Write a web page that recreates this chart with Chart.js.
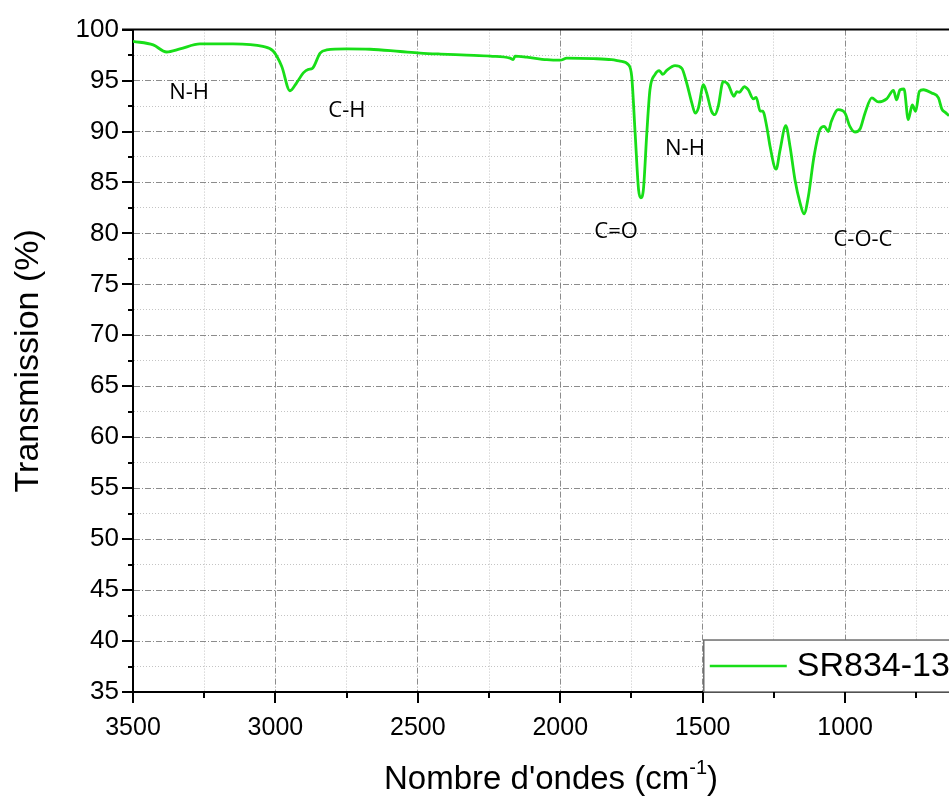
<!DOCTYPE html>
<html>
<head>
<meta charset="utf-8">
<script src="https://cdn.jsdelivr.net/npm/chart.js@4.4.1/dist/chart.umd.min.js"></script>
<style>
html,body{margin:0;padding:0;background:#fff;}
#wrap{width:949px;height:798px;position:relative;}
</style>
</head>
<body>
<div id="wrap"><canvas id="c" width="949" height="798"></canvas></div>
<script>
// ---- data ----
const wavenumbers = [3500,3429,3382,3335,3265,3149,3044,3008,2978,2949,2925,2902,2884,2870,2843,2820,2750,2668,2562,2492,2420,2328,2246,2176,2165,2159,2118,2047,2000,1977,1883,1820,1790,1760,1749,1737,1725,1717,1708,1696,1685,1667,1652,1640,1626,1597,1573,1556,1538,1526,1515,1497,1486,1469,1457,1445,1428,1410,1398,1390,1380,1371,1354,1340,1322,1312,1298,1289,1275,1263,1242,1228,1208,1193,1176,1158,1144,1129,1109,1088,1073,1059,1048,1024,1000,983,965,947,930,906,883,854,830,819,807,793,778,764,752,739,725,696,672,660,649,635];
const transmission = [98.85,98.5,97.8,98.1,98.6,98.6,98.35,97.9,96.4,94.0,94.8,95.75,96.1,96.2,97.7,98.0,98.1,98.07,97.85,97.7,97.6,97.5,97.4,97.2,97.05,97.4,97.3,97.05,97.0,97.2,97.15,97.05,96.9,96.55,95.4,89.85,84.3,83.5,84.3,89.85,94.1,95.6,95.97,95.6,96.0,96.46,96.2,94.76,92.8,91.8,92.3,94.6,93.8,92.0,91.65,92.5,94.9,94.6,93.8,93.45,93.9,93.85,94.4,94.1,93.2,93.35,92.0,92.0,90.5,88.5,86.3,88.2,90.57,88.5,85.3,83.0,81.93,83.6,87.55,90.2,90.5,90.0,91.0,92.14,91.8,90.5,89.95,90.27,91.8,93.3,92.9,93.2,94.04,93.1,94.1,94.17,91.16,92.6,91.98,93.94,94.1,93.78,93.3,92.2,91.9,91.55];
const seriesName = 'SR834-13';
const annotationLabels = ['N-H','C-H','C=O','N-H','C-O-C'];
const annotationX = [3303,2749,1804,1562,937];
const annotationY = [93.8,92.0,80.2,88.3,79.4];
const xTitle = "Nombre d'ondes (cm";
const xTitleSup = "-1";
const yTitle = 'Transmission (%)';
const xMin = 635, xMax = 3500, yMin = 35, yMax = 100;

// ---- styles ----
const GREEN = 'rgb(24,222,24)';
const MAJOR_GRID = 'rgba(120,120,120,0.85)';
const MINOR_GRID = 'rgba(190,190,190,0.9)';

const decorPlugin = {
  id: 'decor',
  afterDraw(chart) {
    const ctx = chart.ctx;
    const ca = chart.chartArea;
    const xs = chart.scales.x, ys = chart.scales.y;
    ctx.save();
    ctx.strokeStyle = '#000';
    ctx.lineWidth = 2;
    // tick marks
    ys.ticks.forEach(t => {
      const y = Math.round(ys.getPixelForValue(t.value));
      const major = Math.abs(t.value % 5) < 1e-6;
      ctx.beginPath();
      ctx.moveTo(ca.left - (major ? 11 : 5), y);
      ctx.lineTo(ca.left, y);
      ctx.stroke();
    });
    xs.ticks.forEach(t => {
      const x = Math.round(xs.getPixelForValue(t.value));
      const major = Math.abs(t.value % 500) < 1e-6;
      ctx.beginPath();
      ctx.moveTo(x, ca.bottom);
      ctx.lineTo(x, ca.bottom + (major ? 11 : 6));
      ctx.stroke();
    });
    // top border
    ctx.beginPath();
    ctx.moveTo(ca.left - 11, ca.top);
    ctx.lineTo(chart.width, ca.top);
    ctx.stroke();
    // x title with superscript
    ctx.fillStyle = '#000';
    ctx.textBaseline = 'alphabetic';
    ctx.font = '33px "Liberation Sans", Arial, sans-serif';
    const w1 = ctx.measureText(xTitle).width;
    ctx.font = '20px "Liberation Sans", Arial, sans-serif';
    const w2 = ctx.measureText(xTitleSup).width;
    ctx.font = '33px "Liberation Sans", Arial, sans-serif';
    const w3 = ctx.measureText(')').width;
    const total = w1 + w2 + w3;
    const cx = (ca.left + chart.width) / 2 + 10;
    let x0 = cx - total / 2;
    const base = 789;
    ctx.textAlign = 'left';
    ctx.fillText(xTitle, x0, base);
    ctx.font = '20px "Liberation Sans", Arial, sans-serif';
    ctx.fillText(xTitleSup, x0 + w1, base - 15);
    ctx.font = '33px "Liberation Sans", Arial, sans-serif';
    ctx.fillText(')', x0 + w1 + w2, base);
    ctx.restore();
  },
  afterDatasetsDraw(chart) {
    const ctx = chart.ctx;
    const ca = chart.chartArea;
    const xs = chart.scales.x, ys = chart.scales.y;
    ctx.save();
    // annotations
    ctx.fillStyle = '#000';
    ctx.font = '22px "Open Sans", "Noto Sans", sans-serif';
    ctx.textAlign = 'center';
    ctx.textBaseline = 'middle';
    annotationLabels.forEach((lab, i) => {
      ctx.fillText(lab, xs.getPixelForValue(annotationX[i]), ys.getPixelForValue(annotationY[i]));
    });
    // legend box
    const ds = chart.data.datasets[0];
    const lx = xs.getPixelForValue(1496), ly = ys.getPixelForValue(40.1);
    ctx.fillStyle = '#fff';
    ctx.fillRect(lx, ly, chart.width - lx + 2, ca.bottom - ly);
    ctx.strokeStyle = '#6e6e6e';
    ctx.lineWidth = 1.5;
    ctx.strokeRect(lx, ly, chart.width - lx + 5, ca.bottom - ly);
    const my = (ly + ca.bottom) / 2;
    ctx.strokeStyle = ds.borderColor;
    ctx.lineWidth = 2.5;
    ctx.beginPath();
    ctx.moveTo(lx + 6, my);
    ctx.lineTo(lx + 83, my);
    ctx.stroke();
    ctx.fillStyle = '#000';
    ctx.font = '34px "Liberation Sans", Arial, sans-serif';
    ctx.textAlign = 'left';
    ctx.textBaseline = 'middle';
    ctx.fillText(ds.label, lx + 93, my + 1);
    ctx.restore();
  }
};

const points = wavenumbers.map((w, i) => ({x: w, y: transmission[i]}));

new Chart(document.getElementById('c'), {
  type: 'line',
  data: {
    datasets: [{
      label: seriesName,
      data: points,
      borderColor: GREEN,
      borderWidth: 2.8,
      pointRadius: 0,
      fill: false,
      cubicInterpolationMode: 'monotone'
    }]
  },
  options: {
    responsive: false,
    animation: false,
    devicePixelRatio: 1,
    layout: {padding: {top: 29, right: 0, left: 0, bottom: 0}},
    plugins: {legend: {display: false}, tooltip: {enabled: false}},
    scales: {
      x: {
        type: 'linear',
        reverse: true,
        min: xMin,
        max: xMax,
        afterBuildTicks(scale) {
          const t = [];
          for (let v = 3500; v >= xMin; v -= 250) t.push({value: v});
          scale.ticks = t;
        },
        afterFit(scale) { scale.height = 798 - 692; },
        ticks: {
          includeBounds: false,
          autoSkip: false,
          maxRotation: 0,
          padding: 21,
          color: '#000',
          font: {family: '"Liberation Sans", Arial, sans-serif', size: 25},
          callback: (v) => (v % 500 === 0 ? String(v) : '')
        },
        grid: {
          drawTicks: false,
          color: (c) => (c.tick && c.tick.value % 500 === 0 ? MAJOR_GRID : MINOR_GRID),
          lineWidth: 1
        },
        border: {
          display: true,
          color: '#000',
          width: 2,
          dash: (c) => (c.tick && c.tick.value % 500 === 0 ? [6, 2, 1, 2] : [1, 2])
        },
        title: {display: false}
      },
      y: {
        type: 'linear',
        min: yMin,
        max: yMax,
        afterBuildTicks(scale) {
          const t = [];
          for (let v = yMin; v <= yMax + 1e-9; v += 2.5) t.push({value: v});
          scale.ticks = t;
        },
        afterFit(scale) { scale.width = 133; },
        ticks: {
          autoSkip: false,
          padding: 14,
          color: '#000',
          font: {family: '"Liberation Sans", Arial, sans-serif', size: 26},
          callback: (v) => (Math.abs(v % 5) < 1e-6 ? String(v) : '')
        },
        grid: {
          drawTicks: false,
          color: (c) => (c.tick && Math.abs(c.tick.value % 5) < 1e-6 ? MAJOR_GRID : MINOR_GRID),
          lineWidth: 1
        },
        border: {
          display: true,
          color: '#000',
          width: 2,
          dash: (c) => (c.tick && Math.abs(c.tick.value % 5) < 1e-6 ? [6, 2, 1, 2] : [1, 2])
        },
        title: {
          display: true,
          text: yTitle,
          color: '#000',
          font: {family: '"Liberation Sans", Arial, sans-serif', size: 34, weight: 'normal'},
          padding: {top: 8, bottom: 0}
        }
      }
    }
  },
  plugins: [decorPlugin]
});
</script>
</body>
</html>
